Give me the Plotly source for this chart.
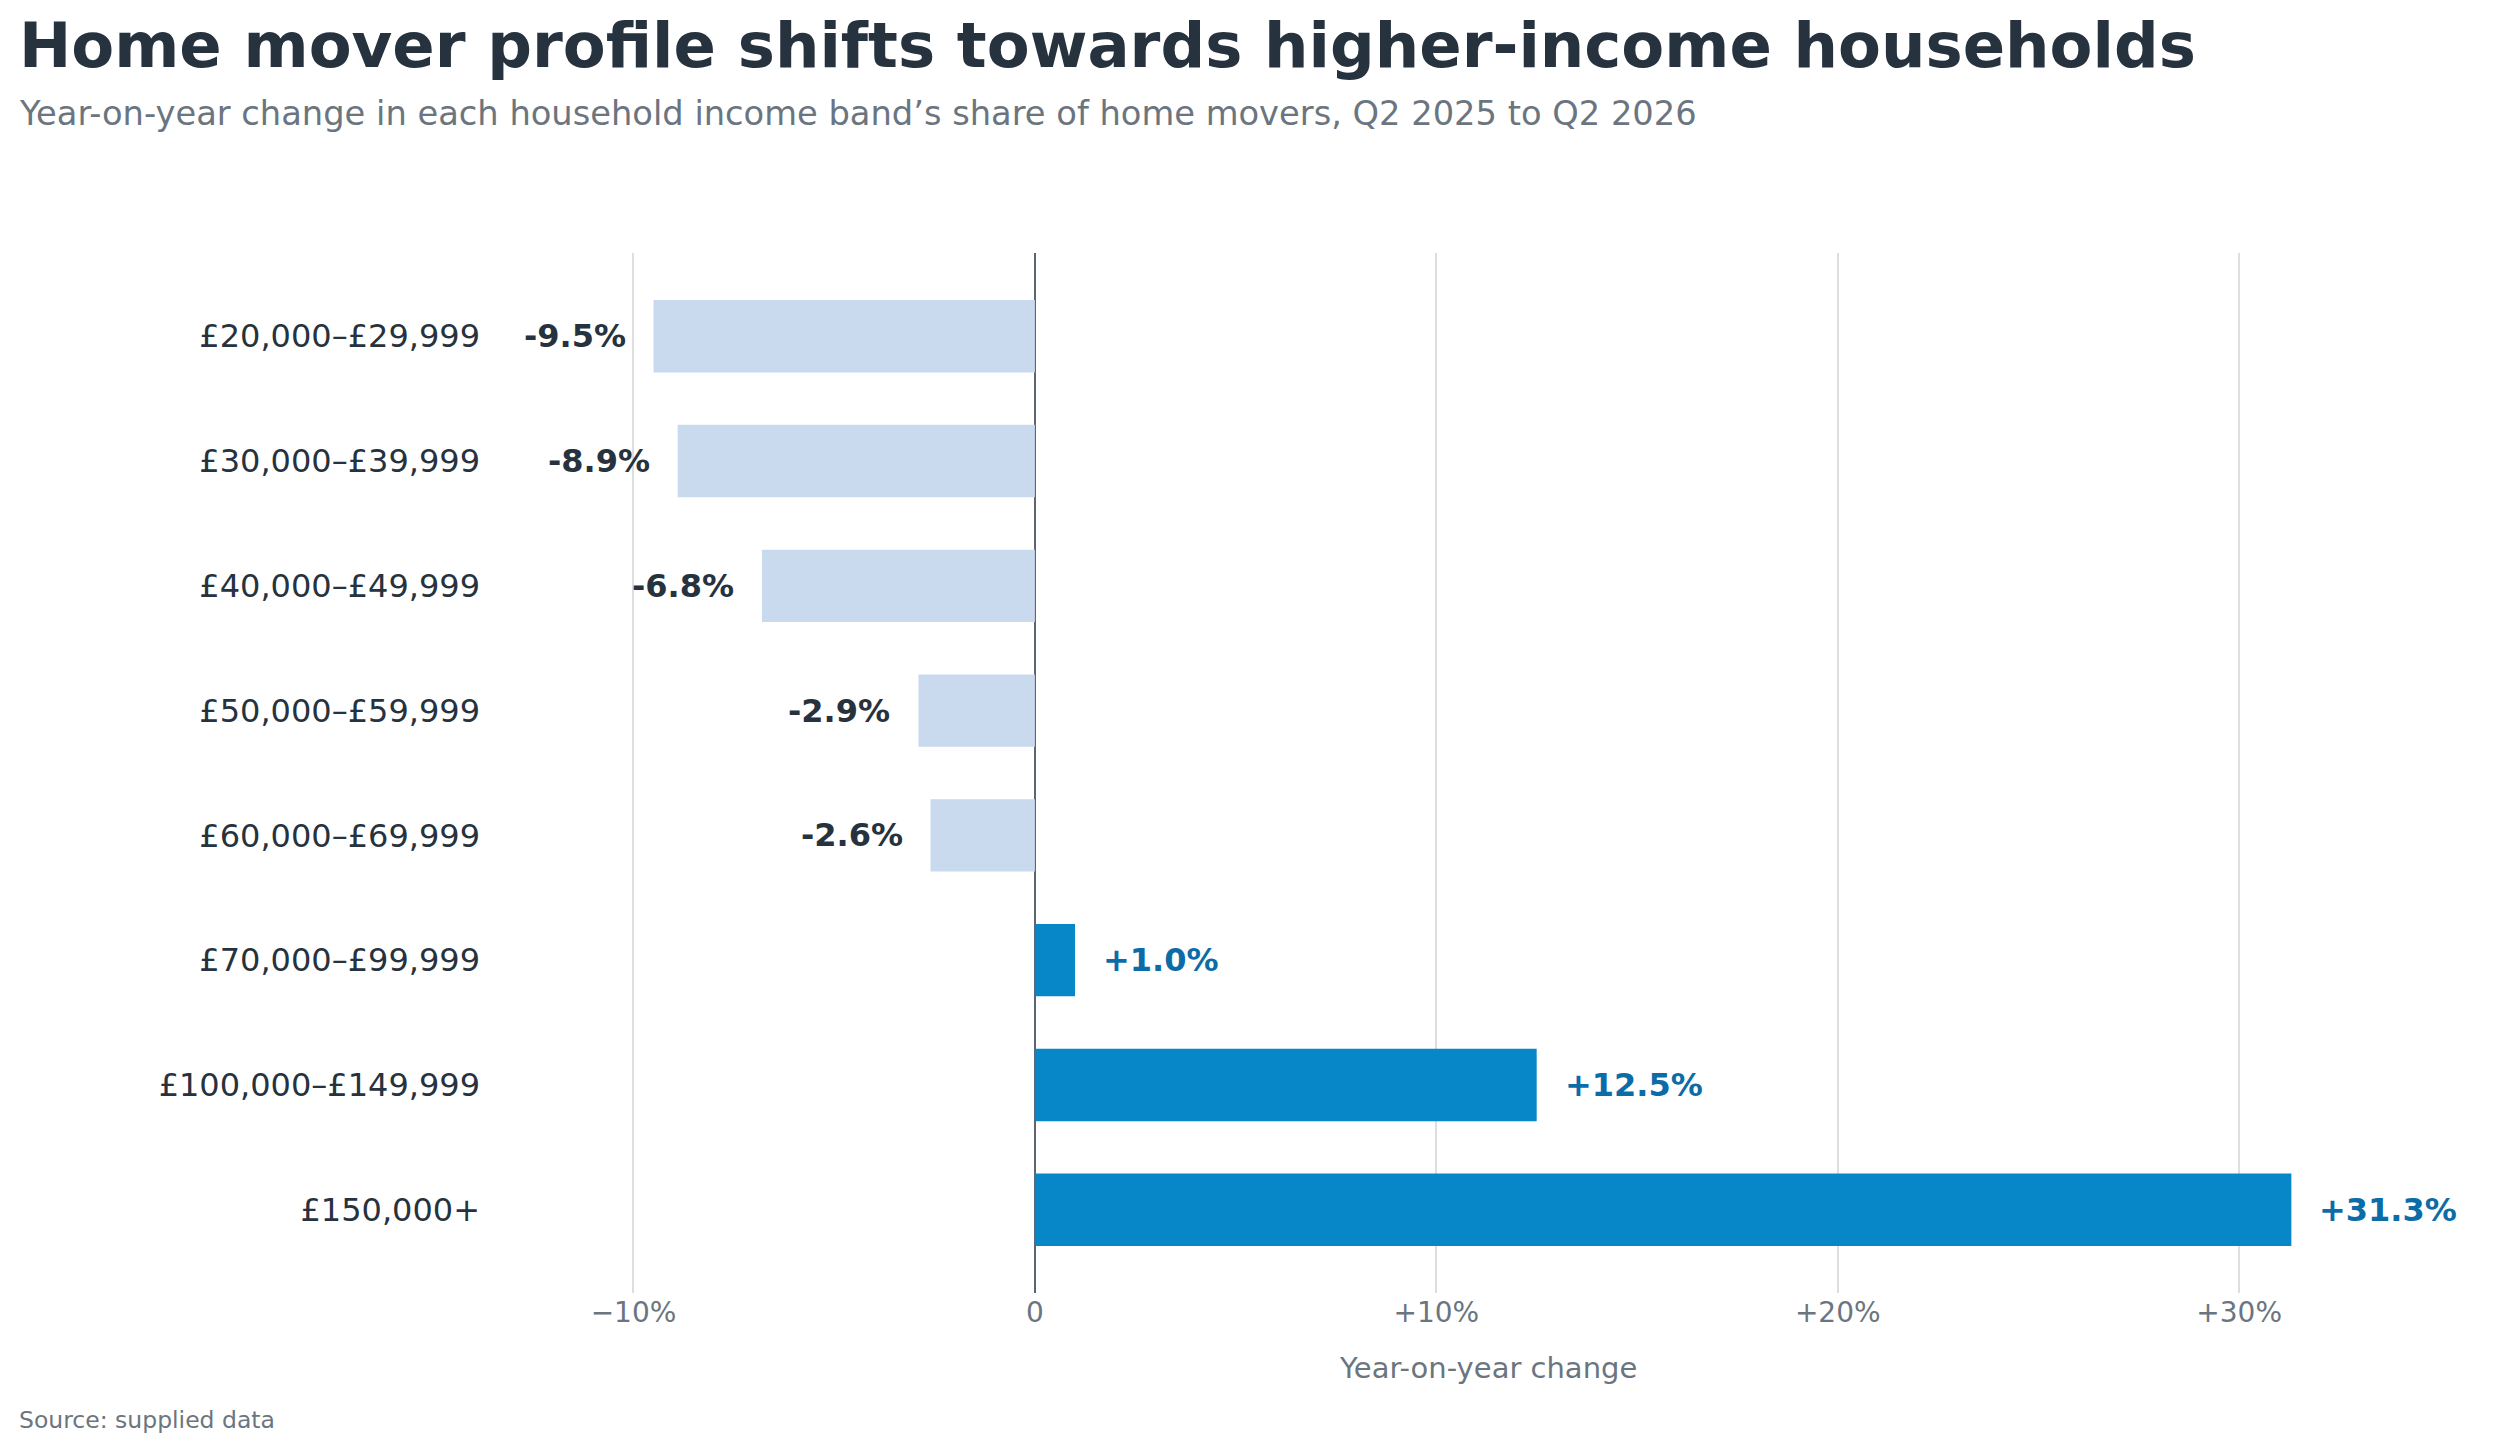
import plotly.graph_objects as go

# Data
income_bands = [
    "£20,000–£29,999",
    "£30,000–£39,999",
    "£40,000–£49,999",
    "£50,000–£59,999",
    "£60,000–£69,999",
    "£70,000–£99,999",
    "£100,000–£149,999",
    "£150,000+",
]
yoy_change = [-9.5, -8.9, -6.8, -2.9, -2.6, 1.0, 12.5, 31.3]

x_tick_values = [-10, 0, 10, 20, 30]
x_tick_labels = ["−10%", "0", "+10%", "+20%", "+30%"]

FONT = "DejaVu Sans"
DARK = "#26323d"
GREY = "#6b7580"
NEG_BAR = "#c9d9ee"
POS_BAR = "#0787c8"
POS_TEXT = "#0b6ca8"

W, H = 2498, 1450
OFF = 8  # page body margin, the figure is drawn 8px in from the window corner
M_L, M_R, M_T, M_B = 1038 - 537 - OFF, 36, 253 - OFF, H - 1293 + OFF
plot_w = W - M_L - M_R
plot_h = H - M_T - M_B


def py(page_y):
    """pixel row of the window -> paper y"""
    return (H - M_B - (page_y - OFF)) / plot_h


def px(page_x):
    return ((page_x - OFF) - M_L) / plot_w


bar_colors = [POS_BAR if v > 0 else NEG_BAR for v in yoy_change]

fig = go.Figure()
fig.add_trace(go.Bar(
    x=yoy_change,
    y=income_bands,
    orientation="h",
    marker=dict(color=bar_colors, line=dict(width=0)),
    width=0.58,
    hoverinfo="skip",
))

annotations = []
for band, v in zip(income_bands, yoy_change):
    label = f"+{v:.1f}%" if v > 0 else f"{v:.1f}%"
    annotations.append(dict(
        x=v, y=band, xref="x", yref="y",
        text=label, showarrow=False,
        xanchor="left" if v > 0 else "right",
        xshift=26 if v > 0 else -26,
        font=dict(family=FONT, size=32, weight="bold",
                  color=POS_TEXT if v > 0 else DARK),
    ))

# title, subtitle, source
annotations += [
    dict(text="Home mover profile shifts towards higher-income households",
         xref="paper", yref="paper", x=px(17), y=py(45),
         xanchor="left", yanchor="middle", showarrow=False,
         font=dict(family=FONT, size=62.5, weight="bold", color=DARK)),
    dict(text="Year-on-year change in each household income band’s share of home movers, Q2 2025 to Q2 2026",
         xref="paper", yref="paper", x=px(17), y=py(113),
         xanchor="left", yanchor="middle", showarrow=False,
         font=dict(family=FONT, size=33.7, color=GREY)),
    dict(text="Year-on-year change",
         xref="paper", yref="paper", x=px(1488), y=py(1368),
         xanchor="center", yanchor="middle", showarrow=False,
         font=dict(family=FONT, size=29, color=GREY)),
    dict(text="Source: supplied data",
         xref="paper", yref="paper", x=px(17), y=py(1420),
         xanchor="left", yanchor="middle", showarrow=False,
         font=dict(family=FONT, size=23.5, color=GREY)),
]

fig.update_layout(
    width=W, height=H,
    margin=dict(l=M_L, r=M_R, t=M_T, b=M_B, autoexpand=False),
    plot_bgcolor="white",
    paper_bgcolor="white",
    showlegend=False,
    annotations=annotations,
    font=dict(family=FONT, color=DARK),
)

fig.update_xaxes(
    range=[-13.3, 35.75],
    tickvals=x_tick_values,
    ticktext=x_tick_labels,
    tickfont=dict(family=FONT, size=28, color=GREY),
    showgrid=True, gridcolor="#dedede", gridwidth=1.5,
    zeroline=True, zerolinecolor="#5b6671", zerolinewidth=1.5,
    showline=False, ticks="",
    ticklabelstandoff=0,
)
fig.update_yaxes(
    range=[7.667, -0.667],
    tickfont=dict(family=FONT, size=32, color=DARK),
    showgrid=False, showline=False, ticks="",
    ticklabelstandoff=20,
)

fig.write_html("out.html")
